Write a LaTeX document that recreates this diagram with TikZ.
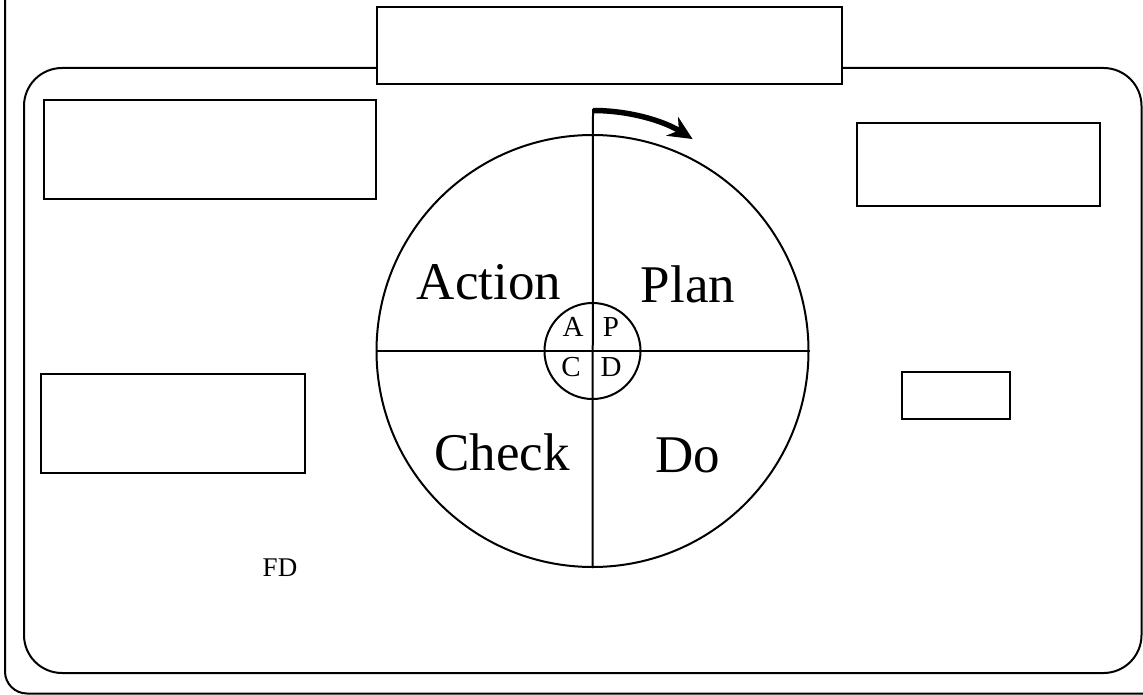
\documentclass[tikz,border=0pt]{standalone}
\usepackage{fontspec}
\setmainfont{Liberation Serif}
\usetikzlibrary{arrows.meta}
\begin{document}
\begin{tikzpicture}[x=1pt,y=-1pt,
  frame/.style={draw=black,line width=2pt},
  box/.style={draw=black,line width=2pt,fill=white,inner sep=0pt,anchor=north west},
  big/.style={font=\fontsize{53}{53}\selectfont},
  small/.style={font=\fontsize{29}{29}\selectfont}]
\useasboundingbox (0,0) rectangle (1143,695);
\clip (0,0) rectangle (1143,695);
% outer frame
\draw[frame,rounded corners=22] (5,-20) -- (5,693.5) -- (1200,693.5);
% inner rounded frame
\draw[frame,rounded corners=38] (24,68) rectangle (1141.5,673);
% boxes
\node[box,minimum width=465pt,minimum height=77pt,line width=2.4pt] (title) at (376,6) {};
\node[box,minimum width=332pt,minimum height=99pt] (tl) at (43,99) {};
\node[box,minimum width=243pt,minimum height=83pt] (tr) at (856,122) {};
\node[box,minimum width=264pt,minimum height=99pt,line width=2.4pt] (ml) at (40,373) {};
\node[box,minimum width=108pt,minimum height=47pt] (mr) at (901,371) {};
% circles
\node[circle,draw,line width=2pt,minimum size=432pt,inner sep=0pt] (bigc) at (592.5,351) {};
\node[circle,draw,line width=2pt,minimum size=96pt,inner sep=0pt,fill=white] (smallc) at (592.5,351) {};
\coordinate (top) at (593,109);
\draw[line width=2pt] (top) -- (bigc.south);
\draw[line width=2pt] (bigc.west) -- (bigc.east);
\draw[line width=5.5pt,-{Stealth[length=24pt,width=22pt]}] ([yshift=-1.5pt]top) arc[start angle=270,end angle=302,radius=188];
% labels
\node[big] (action) at (489,282) {Action};
\node[big] (plan) at (688,284) {Plan};
\node[big] (check) at (502,452) {Check};
\node[big] (do) at (688,455) {Do};
\node[small] (la) at (573,327) {A};
\node[small] (lp) at (611,327) {P};
\node[small] (lc) at (571,367) {C};
\node[small] (ld) at (611,367) {D};
\node[small,font=\fontsize{27}{27}\selectfont] (fd) at (280,568) {FD};
\end{tikzpicture}
\end{document}
